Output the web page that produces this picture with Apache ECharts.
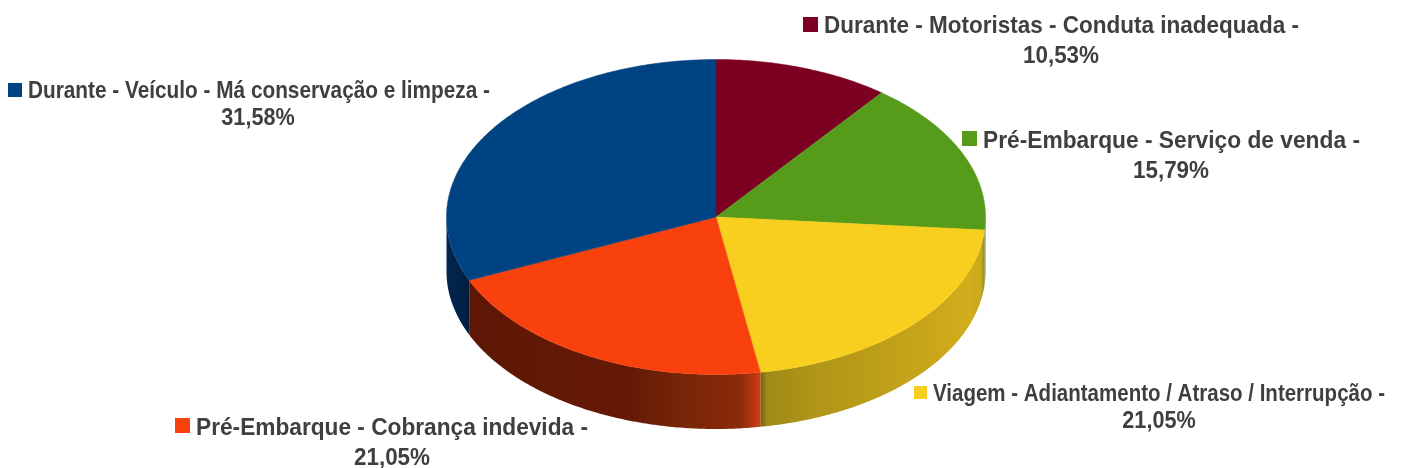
<!DOCTYPE html>
<html><head><meta charset="utf-8">
<style>html,body{margin:0;padding:0;background:#fff}#c{width:1401px;height:468px}</style>
<script src="https://cdn.jsdelivr.net/npm/echarts@6/dist/echarts.min.js"></script>
</head><body><div id="c"></div>
<script>
// data
const categories = [
  'Durante - Motoristas - Conduta inadequada -',
  'Pré-Embarque - Serviço de venda -',
  'Viagem - Adiantamento / Atraso / Interrupção -',
  'Pré-Embarque - Cobrança indevida -',
  'Durante - Veículo - Má conservação e limpeza -'
];
const values = [10.53, 15.79, 21.05, 21.05, 31.58];
const percentLabels = ['10,53%', '15,79%', '21,05%', '21,05%', '31,58%'];

// styles
const topColors = ['#7c0021', '#579b1b', '#f8ce1f', '#f9410d', '#004383'];
const sideStops = [
  [[0, '#4a0014'], [1, '#4a0014']],
  [[0, '#5f8a1c'], [1, '#6b7f22']],
  [[0, '#6f6214'], [0.03, '#a08a17'], [0.25, '#b09517'], [0.7, '#c6a41a'], [0.93, '#d2ae1c'], [0.985, '#c9a81c'], [1, '#8a8a24']],
  [[0, '#5e1705'], [0.55, '#651a05'], [0.72, '#762408'], [0.93, '#8a2b0a'], [0.97, '#b03410'], [1, '#d43c10']],
  [[0, '#02264f'], [1, '#011e40']]
];
// layout
const CX = 716, CY = 217, RX = 269.5, RY = 157.5, DEPTH = 54.5;
const labelLayout = [
  {keyX: 803, keyY: 17, key: 15, x: 824, w: 475, top: 14, size: 24, x2: 1061, top2: 44, sx2: 0.935},
  {keyX: 962, keyY: 131, key: 15, x: 983, w: 377, top: 129, size: 24, x2: 1171, top2: 159, sx2: 0.935},
  {keyX: 914, keyY: 386, key: 13, x: 933, w: 452, top: 383, size: 23, x2: 1159, top2: 410, sx2: 0.94},
  {keyX: 175, keyY: 418, key: 15, x: 196, w: 392, top: 416, size: 24, x2: 392, top2: 446, sx2: 0.935},
  {keyX: 8, keyY: 83, key: 14, x: 28, w: 462, top: 80, size: 23, x2: 258, top2: 107, sx2: 0.94}
];

const total = values.reduce((a, b) => a + b, 0);
const starts = values.map((_, i) => values.slice(0, i).reduce((a, b) => a + b, 0) / total * 2 * Math.PI);
const pt = (a, dy) => [CX + RX * Math.sin(a), CY - RY * Math.cos(a) + (dy || 0)];
const arc = (a0, a1, dy) => {
  const n = Math.max(2, Math.ceil((a1 - a0) / 0.01)), out = [];
  for (let k = 0; k <= n; k++) out.push(pt(a0 + (a1 - a0) * k / n, dy));
  return out;
};
const ctx = document.createElement('canvas').getContext('2d');
const fontOf = s => 'bold ' + s + 'px "Liberation Sans"';

function renderItem(params, api) {
  const i = params.dataIndex;
  const share = api.value(1) / total * 2 * Math.PI;
  const a0 = starts[i], a1 = a0 + share;
  const children = [];
  const s0 = Math.max(a0, Math.PI / 2), s1 = Math.min(a1, 3 * Math.PI / 2);
  if (s1 > s0) {
    const upper = arc(s0, s1, 0), lower = arc(s0, s1, DEPTH).reverse();
    const xs = upper.map(p => p[0]);
    const xl = Math.min(...xs), xr = Math.max(...xs);
    children.push({
      type: 'polygon', z2: 1,
      shape: {points: upper.concat(lower)},
      style: {fill: {type: 'linear', x: xl, y: 0, x2: xr, y2: 0, global: true,
        colorStops: sideStops[i].map(s => ({offset: s[0], color: s[1]}))}}
    });
  }
  children.push({
    type: 'polygon', z2: 2,
    shape: {points: [[CX, CY]].concat(arc(a0, a1, 0))},
    style: {fill: topColors[i], stroke: topColors[i], lineWidth: 0.5}
  });
  const L = labelLayout[i];
  children.push({type: 'rect', z2: 3, shape: {x: L.keyX, y: L.keyY, width: L.key, height: L.key},
    style: {fill: topColors[i]}});
  ctx.font = fontOf(L.size);
  const sx = L.w / ctx.measureText(categories[i]).width;
  children.push({type: 'text', z2: 3, x: L.x, y: L.top, scaleX: sx,
    style: {text: categories[i], x: 0, y: 0, font: fontOf(L.size), fill: '#3f3f3f', textAlign: 'left'}});
  children.push({type: 'text', z2: 3, x: L.x2, y: L.top2, scaleX: L.sx2,
    style: {text: percentLabels[i], x: 0, y: 0, font: fontOf(L.size), fill: '#3f3f3f', textAlign: 'center'}});
  return {type: 'group', children};
}

const chart = echarts.init(document.getElementById('c'), null, {renderer: 'canvas'});
chart.setOption({
  animation: false,
  backgroundColor: '#fff',
  series: [{
    type: 'custom',
    coordinateSystem: 'none',
    renderItem,
    encode: {value: 1},
    data: categories.map((c, i) => [c, values[i]])
  }]
});
</script></body></html>
